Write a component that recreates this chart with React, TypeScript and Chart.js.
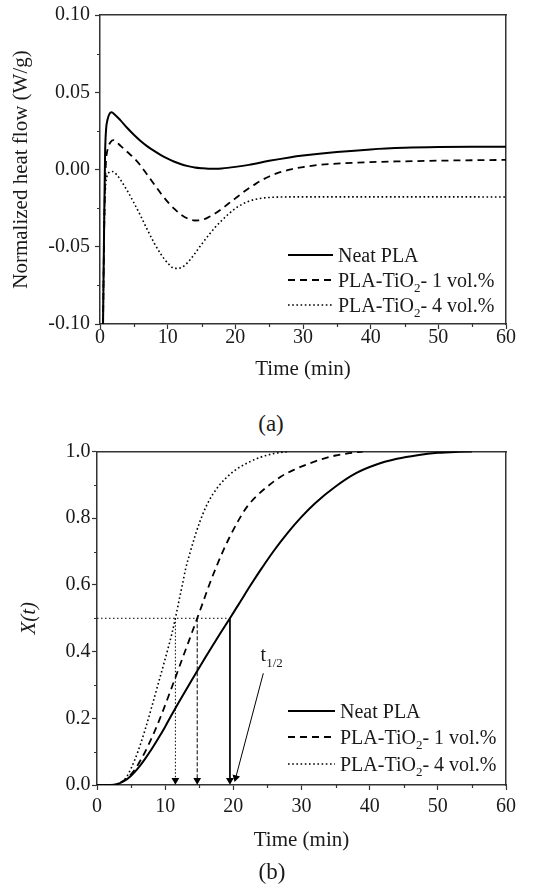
import React, { useEffect, useRef } from 'react';
import { Chart, registerables } from 'chart.js';

Chart.register(...registerables);

const FONT = '"Liberation Serif", "Times New Roman", Times, serif';
const INK = '#1a1a1a';
const AXIS = '#333333';

// ---------- Panel (a): normalized heat flow ----------
const xTicksA = [0, 10, 20, 30, 40, 50, 60];
const yTicksA = [-0.1, -0.05, 0, 0.05, 0.1];
const minorXA = [5, 15, 25, 35, 45, 55];
const minorYA = [-0.075, -0.025, 0.025, 0.075];

const neatTimeA = [0.45, 0.6, 0.75, 0.9, 1.1, 1.4, 1.7, 2.2, 3, 4, 5, 6, 7, 8, 9, 10, 11, 12, 13, 14, 15, 16, 17, 18, 20, 22, 25, 28, 30, 35, 40, 45, 50, 55, 60];
const neatFlowA = [-0.1, -0.04, 0.01, 0.026, 0.032, 0.036, 0.037, 0.0355, 0.032, 0.027, 0.0225, 0.0185, 0.015, 0.012, 0.0093, 0.007, 0.005, 0.0034, 0.0022, 0.0013, 0.0008, 0.0005, 0.0005, 0.0007, 0.0017, 0.003, 0.0056, 0.0078, 0.009, 0.0113, 0.013, 0.014, 0.0145, 0.0147, 0.0147];

const tio1TimeA = [0.45, 0.6, 0.75, 0.9, 1.2, 1.6, 2.0, 2.5, 3, 4, 5, 6, 7, 8, 9, 10, 11, 12, 13, 14, 15, 16, 17, 18, 19, 20, 21, 22, 23, 24, 25, 26, 28, 30, 32, 35, 40, 45, 50, 55, 60];
const tio1FlowA = [-0.1, -0.045, -0.01, 0.006, 0.014, 0.018, 0.019, 0.0175, 0.0155, 0.0115, 0.0075, 0.0025, -0.0035, -0.0095, -0.0155, -0.021, -0.0255, -0.0293, -0.0318, -0.033, -0.0327, -0.031, -0.0285, -0.0255, -0.022, -0.0187, -0.0153, -0.0122, -0.0093, -0.0067, -0.0045, -0.0027, -0.0001, 0.0016, 0.0028, 0.0038, 0.0048, 0.0053, 0.0057, 0.006, 0.0062];

const tio4TimeA = [0.45, 0.55, 0.65, 0.8, 1.0, 1.3, 1.8, 2.5, 3, 4, 5, 6, 7, 8, 9, 10, 11, 12, 13, 14, 15, 16, 17, 18, 19, 20, 21, 22, 23, 24, 26, 30, 40, 50, 60];
const tio4FlowA = [-0.1, -0.06, -0.03, -0.012, -0.005, -0.002, -0.0013, -0.0035, -0.0065, -0.0135, -0.0215, -0.03, -0.039, -0.0475, -0.0548, -0.0605, -0.064, -0.0635, -0.06, -0.0545, -0.0485, -0.0428, -0.0375, -0.033, -0.0288, -0.0252, -0.0225, -0.0205, -0.0193, -0.0185, -0.0179, -0.0177, -0.0177, -0.0177, -0.0178];

// ---------- Panel (b): relative crystallinity X(t) ----------
const xTicksB = [0, 10, 20, 30, 40, 50, 60];
const yTicksB = [0, 0.2, 0.4, 0.6, 0.8, 1.0];
const minorXB = [5, 15, 25, 35, 45, 55];
const minorYB = [0.1, 0.3, 0.5, 0.7, 0.9];

const neatTimeB = [0, 2, 3, 4, 5, 6, 7, 8, 9, 10, 11, 12, 14, 16, 18, 19.5, 21, 22.5, 24, 26, 28, 30, 32, 35, 38, 41, 44, 47, 50, 53, 55];
const neatXB = [0, 0, 0.003, 0.012, 0.028, 0.05, 0.077, 0.107, 0.14, 0.175, 0.212, 0.248, 0.318, 0.386, 0.452, 0.5, 0.549, 0.598, 0.645, 0.704, 0.757, 0.804, 0.845, 0.895, 0.935, 0.961, 0.978, 0.989, 0.996, 0.999, 1.0];

const tio1TimeB = [0, 2.5, 3.5, 4.5, 5.5, 6.5, 7.5, 8.5, 9.5, 10.5, 11.5, 12.5, 13.5, 14.7, 15.5, 16.5, 17.5, 18.5, 19.5, 20.8, 22, 23.5, 25, 27, 29, 31, 33, 35, 37, 39];
const tio1XB = [0, 0, 0.008, 0.022, 0.045, 0.078, 0.118, 0.163, 0.213, 0.267, 0.322, 0.378, 0.433, 0.5, 0.545, 0.602, 0.654, 0.702, 0.745, 0.795, 0.834, 0.868, 0.895, 0.925, 0.946, 0.963, 0.977, 0.988, 0.995, 1.0];

const tio4TimeB = [0, 2.5, 3.5, 4.2, 5, 6, 7, 8, 9, 10, 11, 11.5, 12, 12.5, 13, 13.7, 14.4, 15.1, 16, 17, 18, 19, 20, 21, 22.5, 24, 26, 28];
const tio4XB = [0, 0, 0.008, 0.02, 0.05, 0.1, 0.162, 0.232, 0.305, 0.378, 0.455, 0.5, 0.55, 0.598, 0.648, 0.7, 0.748, 0.79, 0.835, 0.872, 0.9, 0.922, 0.94, 0.954, 0.97, 0.983, 0.994, 1.0];

// half-time construction
const halfLevel = 0.5;
const halfTimes = [19.5, 14.7, 11.5]; // neat, 1 vol.%, 4 vol.%
const arrowBase = 0.014;
const t12ArrowTime = [24.4, 20.35];
const t12ArrowX = [0.335, 0.022];
const t12LabelPos = [24.0, 0.372];

const seriesLabels = ['Neat PLA', 'PLA-TiO_{2}- 1 vol.%', 'PLA-TiO_{2}- 4 vol.%'];
const t12Label = 't_{1/2}';

const pts = (xs: number[], ys: number[]) => xs.map((x, i) => ({ x, y: ys[i] }));

const SOLID: number[] = [];
const DASH = [7, 5];
const DOT = [1.6, 2.6];

function drawRich(ctx: CanvasRenderingContext2D, text: string, x: number, yMid: number, size: number) {
  const parts: { t: string; sub: boolean }[] = [];
  const re = /_\{([^}]*)\}/g;
  let last = 0;
  let m: RegExpExecArray | null;
  while ((m = re.exec(text))) {
    if (m.index > last) parts.push({ t: text.slice(last, m.index), sub: false });
    parts.push({ t: m[1], sub: true });
    last = m.index + m[0].length;
  }
  if (last < text.length) parts.push({ t: text.slice(last), sub: false });
  const base = yMid + size * 0.33;
  let cx = x;
  ctx.textBaseline = 'alphabetic';
  ctx.textAlign = 'left';
  ctx.fillStyle = INK;
  for (const p of parts) {
    const s = p.sub ? size * 0.65 : size;
    ctx.font = `${s}px ${FONT}`;
    ctx.fillText(p.t, cx, p.sub ? base + size * 0.28 : base);
    cx += ctx.measureText(p.t).width;
  }
}

const minorTicksPlugin = {
  id: 'minorTicks',
  afterDraw(chart: any, _args: any, opts: any) {
    const { ctx, chartArea } = chart;
    const xs = chart.scales.x;
    const ys = chart.scales.y;
    ctx.save();
    ctx.strokeStyle = AXIS;
    ctx.lineWidth = 1.2;
    ctx.setLineDash([]);
    ctx.beginPath();
    for (const v of opts.xValues) {
      const px = Math.round(xs.getPixelForValue(v)) + 0.5;
      ctx.moveTo(px, chartArea.bottom);
      ctx.lineTo(px, chartArea.bottom + opts.length);
    }
    for (const v of opts.yValues) {
      const py = Math.round(ys.getPixelForValue(v)) + 0.5;
      ctx.moveTo(chartArea.left, py);
      ctx.lineTo(chartArea.left - opts.length, py);
    }
    ctx.stroke();
    ctx.restore();
  },
};

const subLegendPlugin = {
  id: 'subLegend',
  afterDraw(chart: any, _args: any, opts: any) {
    const ctx = chart.ctx as CanvasRenderingContext2D;
    opts.items.forEach((idx: number, row: number) => {
      const ds = chart.data.datasets[idx];
      const y = opts.rows[row];
      ctx.save();
      ctx.strokeStyle = ds.borderColor;
      ctx.lineWidth = ds.borderWidth;
      ctx.setLineDash(ds.borderDash || []);
      ctx.beginPath();
      ctx.moveTo(opts.x0, y);
      ctx.lineTo(opts.x1, y);
      ctx.stroke();
      ctx.setLineDash([]);
      drawRich(ctx, ds.label, opts.textX, y, opts.fontSize);
      ctx.restore();
    });
    if (opts.note) {
      const px = chart.scales.x.getPixelForValue(opts.note.pos[0]);
      const py = chart.scales.y.getPixelForValue(opts.note.pos[1]);
      ctx.save();
      drawRich(ctx, opts.note.text, px, py - opts.fontSize * 0.33, opts.fontSize);
      ctx.restore();
    }
  },
};

function curve(label: string, xs: number[], ys: number[], dash: number[], width: number) {
  return {
    label,
    data: pts(xs, ys),
    borderColor: '#000',
    borderWidth: width,
    borderDash: dash,
    pointRadius: 0,
    fill: false,
    cubicInterpolationMode: 'monotone' as const,
  };
}

function guide(xs: number[], ys: number[], dash: number[], arrow: boolean, rotation = 180) {
  return {
    label: '',
    data: pts(xs, ys),
    borderColor: '#000',
    borderWidth: 1,
    borderDash: dash,
    tension: 0,
    fill: false,
    pointRadius: arrow ? [0, 4.5] : 0,
    pointStyle: 'triangle',
    pointRotation: rotation,
    pointBackgroundColor: '#000',
    pointBorderColor: '#000',
    pointBorderWidth: 0,
  };
}

function scalesFor(cfg: {
  xTicks: number[]; yTicks: number[]; yTitle: string; yItalic: boolean;
  yWidth: number; xHeight: number; yDigits: number; xPad: number; yPad: number;
  xTitlePad: number; yTitlePad: number;
}) {
  const tickFont = { family: FONT, size: 20, lineHeight: 1 };
  const titleFont = { family: FONT, size: 21 };
  const xMin = cfg.xTicks[0];
  const xMax = cfg.xTicks[cfg.xTicks.length - 1];
  const yMin = cfg.yTicks[0];
  const yMax = cfg.yTicks[cfg.yTicks.length - 1];
  const xStep = cfg.xTicks[1] - cfg.xTicks[0];
  const yStep = cfg.yTicks[1] - cfg.yTicks[0];
  const grid = { display: true, drawOnChartArea: false, drawTicks: true, tickLength: 5, tickColor: AXIS, tickWidth: 1.2 };
  const border = { display: true, color: AXIS, width: 1.5 };
  return {
    x: {
      type: 'linear', position: 'bottom', min: xMin, max: xMax,
      ticks: { stepSize: xStep, font: tickFont, color: INK, padding: cfg.xPad, maxRotation: 0, autoSkip: false },
      grid, border,
      title: { display: true, text: 'Time (min)', font: titleFont, color: INK, padding: { top: 0, bottom: cfg.xTitlePad } },
      afterFit: (s: any) => { s.height = cfg.xHeight; },
    },
    y: {
      type: 'linear', position: 'left', min: yMin, max: yMax,
      ticks: {
        stepSize: yStep, font: tickFont, color: INK, padding: cfg.yPad, autoSkip: false,
        callback: (v: any) => Number(v).toFixed(cfg.yDigits),
      },
      grid, border,
      title: {
        display: true, text: cfg.yTitle,
        font: { ...titleFont, style: cfg.yItalic ? 'italic' : 'normal' },
        color: INK, padding: { top: cfg.yTitlePad, bottom: 0 },
      },
      afterFit: (s: any) => { s.width = cfg.yWidth; },
    },
    x2: {
      type: 'linear', position: 'top', min: xMin, max: xMax,
      ticks: { display: false }, grid: { display: false, drawTicks: false }, border,
      afterFit: (s: any) => { s.height = 0; },
    },
    y2: {
      type: 'linear', position: 'right', min: yMin, max: yMax,
      ticks: { display: false }, grid: { display: false, drawTicks: false }, border,
      afterFit: (s: any) => { s.width = 0; },
    },
  };
}

export default function App() {
  const refA = useRef<HTMLCanvasElement | null>(null);
  const refB = useRef<HTMLCanvasElement | null>(null);

  useEffect(() => {
    const chartA = new Chart(refA.current as HTMLCanvasElement, {
      type: 'line',
      data: {
        datasets: [
          curve(seriesLabels[0], neatTimeA, neatFlowA, SOLID, 2),
          curve(seriesLabels[1], tio1TimeA, tio1FlowA, DASH, 1.8),
          curve(seriesLabels[2], tio4TimeA, tio4FlowA, DOT, 1.6),
        ] as any,
      },
      options: {
        responsive: false,
        animation: false,
        events: [],
        layout: { padding: { left: 0, top: 12, right: 28, bottom: 0 } },
        plugins: {
          legend: { display: false },
          tooltip: { enabled: false },
          minorTicks: { xValues: minorXA, yValues: minorYA, length: 3 },
          subLegend: { items: [0, 1, 2], rows: [255, 280, 305], x0: 288, x1: 333, textX: 338, fontSize: 20 },
        } as any,
        scales: scalesFor({
          xTicks: xTicksA, yTicks: yTicksA, yTitle: 'Normalized heat flow (W/g)', yItalic: false,
          yWidth: 100, xHeight: 76, yDigits: 2, xPad: -1, yPad: 5, xTitlePad: 18, yTitlePad: 8.5,
        }) as any,
      },
      plugins: [minorTicksPlugin, subLegendPlugin],
    });

    const chartB = new Chart(refB.current as HTMLCanvasElement, {
      type: 'line',
      data: {
        datasets: [
          curve(seriesLabels[0], neatTimeB, neatXB, SOLID, 2),
          curve(seriesLabels[1], tio1TimeB, tio1XB, DASH, 1.8),
          curve(seriesLabels[2], tio4TimeB, tio4XB, DOT, 1.6),
          guide([0, halfTimes[0]], [halfLevel, halfLevel], [1.5, 2.5], false),
          guide([halfTimes[0], halfTimes[0]], [halfLevel, arrowBase], SOLID, true),
          guide([halfTimes[1], halfTimes[1]], [halfLevel, arrowBase], [4, 2], true),
          guide([halfTimes[2], halfTimes[2]], [halfLevel, arrowBase], [1.5, 2], true),
          guide(t12ArrowTime, t12ArrowX, SOLID, true, 195),
        ] as any,
      },
      options: {
        responsive: false,
        animation: false,
        events: [],
        layout: { padding: { left: 0, top: 9, right: 28, bottom: 0 } },
        plugins: {
          legend: { display: false },
          tooltip: { enabled: false },
          minorTicks: { xValues: minorXB, yValues: minorYB, length: 3 },
          subLegend: {
            items: [0, 1, 2], rows: [271, 297, 324], x0: 288, x1: 335, textX: 340, fontSize: 20,
            note: { text: t12Label, pos: t12LabelPos },
          },
        } as any,
        scales: scalesFor({
          xTicks: xTicksB, yTicks: yTicksB, yTitle: 'X(t)', yItalic: true,
          yWidth: 97, xHeight: 75, yDigits: 1, xPad: 6.5, yPad: 1.5, xTitlePad: 7, yTitlePad: 16.5,
        }) as any,
      },
      plugins: [minorTicksPlugin, subLegendPlugin],
    });

    return () => {
      chartA.destroy();
      chartB.destroy();
    };
  }, []);

  const panelLabel: React.CSSProperties = {
    position: 'absolute',
    transform: 'translateX(-50%)',
    fontFamily: FONT,
    fontSize: 23,
    lineHeight: '24px',
    color: INK,
    whiteSpace: 'nowrap',
  };

  return (
    <div style={{ position: 'absolute', left: 0, top: 0, width: 534, height: 888, background: '#fff', overflow: 'hidden' }}>
      <canvas ref={refA} width={534} height={400} style={{ position: 'absolute', left: 0, top: 0, width: 534, height: 400 }} />
      <div style={{ ...panelLabel, left: 271, top: 412 }}>(a)</div>
      <canvas ref={refB} width={534} height={420} style={{ position: 'absolute', left: 0, top: 440, width: 534, height: 420 }} />
      <div style={{ ...panelLabel, left: 272, top: 860 }}>(b)</div>
    </div>
  );
}
